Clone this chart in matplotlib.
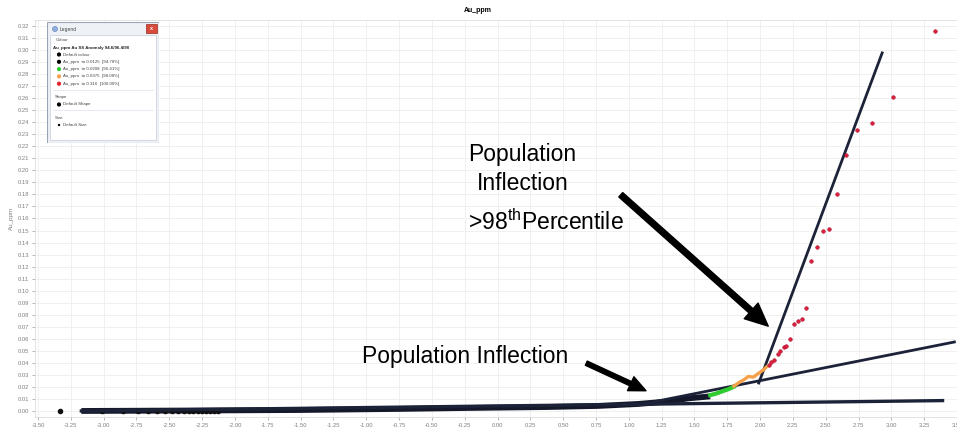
import matplotlib
matplotlib.use("Agg")
import matplotlib.pyplot as plt
from matplotlib.patches import Rectangle, FancyArrowPatch, Circle

plt.rcParams["font.family"] = ["Liberation Sans", "DejaVu Sans"]
plt.rcParams["mathtext.fontset"] = "custom"
plt.rcParams["mathtext.rm"] = "Liberation Sans"

# normal score vs Au_ppm, split by colour class
low_tail_x = [-3.33, -3.01, -2.85, -2.74, -2.66, -2.59, -2.53, -2.48, -2.43,
              -2.39, -2.35, -2.32, -2.28, -2.25, -2.22, -2.19, -2.16, -2.13]
low_tail_y = [0.0005, 0.0005, 0.0005, 0.0005, 0.0005, 0.0005, 0.0005, 0.0005, 0.0005,
              0.0005, 0.0005, 0.0005, 0.0005, 0.0005, 0.0005, 0.0005, 0.0005, 0.0005]

black_x = [-3.17, -2.27, -1.51, -0.75, -0.22, 0.39, 0.77, 1.07, 1.30, 1.45, 1.57, 1.62]
black_y = [0.0004, 0.0008, 0.0012, 0.0021, 0.0029, 0.0037, 0.0046, 0.0062, 0.0083,
           0.0108, 0.0120, 0.0125]

green_x = [1.62, 1.67, 1.72, 1.76, 1.80]
green_y = [0.0135, 0.0150, 0.0170, 0.0185, 0.0205]

orange_x = [1.80, 1.84, 1.88, 1.91, 1.95, 1.98, 2.02, 2.05]
orange_y = [0.0210, 0.0240, 0.0265, 0.0290, 0.0285, 0.0310, 0.0340, 0.0370]

red_x = [2.068, 2.087, 2.108, 2.133, 2.153, 2.181, 2.201, 2.229, 2.258, 2.290, 2.318,
         2.353, 2.391, 2.432, 2.480, 2.528, 2.587, 2.655, 2.739, 2.850, 3.010, 3.331]
red_y = [0.0386, 0.0413, 0.0427, 0.0474, 0.0504, 0.0537, 0.0546, 0.0604, 0.0723, 0.0750,
         0.0765, 0.0856, 0.1250, 0.1367, 0.1499, 0.1511, 0.1806, 0.2127, 0.2334, 0.2395,
         0.2605, 0.3155]

# hand-fitted population lines (start, end)
pop1_x = [-3.17, 3.39]
pop1_y = [0.0004, 0.0090]
pop2_x = [1.07, 3.48]
pop2_y = [0.0054, 0.0576]
pop3_x = [1.99, 2.93]
pop3_y = [0.0236, 0.2973]

x_ticks = [-3.5 + 0.25 * i for i in range(29)]
y_ticks = [0.01 * i for i in range(33)]

legend_rows = [
    ("black", "Default colour"),
    ("black", "Au_ppm  to 0.0125  [94.78%]"),
    ("#2ecc2e", "Au_ppm  to 0.0208  [96.41%]"),
    ("#f5a04a", "Au_ppm  to 0.0375  [98.08%]"),
    ("#e8202e", "Au_ppm  to 0.316  [100.00%]"),
]

W, H = 957, 433
fig = plt.figure(figsize=(W / 100, H / 100), dpi=100)
ax = fig.add_axes([35 / W, 16 / H, 922 / W, 397 / H])

ax.set_xlim(-3.523, 3.483)
ax.set_ylim(-0.0046, 0.3246)
ax.set_xticks(x_ticks)
ax.set_yticks(y_ticks)
ax.set_xticklabels([f"{v:.2f}" for v in x_ticks])
ax.set_yticklabels([f"{v:.2f}" for v in y_ticks])
ax.tick_params(labelsize=4.2, colors="#808080", length=2, width=0.4, pad=2)
ax.grid(True, color="#eeeeee", linewidth=0.6)
ax.set_axisbelow(True)
for s in ax.spines.values():
    s.set_color("#dddddd")
    s.set_linewidth(0.6)
fig.text(478 / W, 1 - 11 / H, "Au_ppm", fontsize=5, fontweight="bold",
         ha="center", va="center")
ax.set_ylabel("Au_ppm", fontsize=4.5, color="#808080", labelpad=3)

navy = "#1c2238"
ax.plot(black_x, black_y, color="#14182a", lw=4.2, solid_capstyle="butt", zorder=3)
ax.plot(pop1_x, pop1_y, color=navy, lw=2.4, zorder=4)
ax.plot(pop2_x, pop2_y, color=navy, lw=2.0, zorder=4)
ax.plot(pop3_x, pop3_y, color=navy, lw=2.0, zorder=4)
ax.plot(low_tail_x, low_tail_y, "o", color="#111111", ms=3, zorder=3)

ax.plot(green_x, green_y, color="#2ecc2e", lw=3, zorder=5)
ax.plot(orange_x, orange_y, color="#f5a04a", lw=2.4, zorder=5)
ax.plot(red_x, red_y, "o", color="#e0203a", mec="#a81030", mew=0.4, ms=2.6, zorder=6)

# annotations
txt_kw = dict(fontsize=16.5, color="black", ha="center", va="center", zorder=7)
ax.text(-0.25, 0.0452, "Population Inflection", **txt_kw)
ax.text(0.19, 0.2127, "Population", **txt_kw)
ax.text(0.19, 0.1894, "Inflection", **txt_kw)
ax.text(0.37, 0.1570, r">98$^{\mathrm{th}}$Percentile", **txt_kw)

big = FancyArrowPatch((0.923, 0.1812), (2.078, 0.0692),
                      arrowstyle="simple,head_length=1.1,head_width=1.0,tail_width=0.28",
                      mutation_scale=15, color="black", zorder=7)
ax.add_patch(big)
small = FancyArrowPatch((0.657, 0.0410), (1.150, 0.0162),
                        arrowstyle="simple,head_length=1.1,head_width=1.0,tail_width=0.3",
                        mutation_scale=11, color="black", zorder=7)
ax.add_patch(small)

# legend window, drawn in its own pixel space
lx0, ly0, lw_, lh_ = 47, 22, 112, 121
lg = fig.add_axes([lx0 / W, (H - ly0 - lh_) / H, lw_ / W, lh_ / H])
lg.set_xlim(0, lw_)
lg.set_ylim(lh_, 0)
lg.axis("off")
lg.add_patch(Rectangle((0, 0), lw_, lh_, facecolor="#eef1f5", edgecolor="#9aa4b4", lw=0.8))
lg.add_patch(Rectangle((3, 13), lw_ - 6, lh_ - 16, facecolor="white", edgecolor="#c4ccd8", lw=0.5))
lg.add_patch(Rectangle((lw_ - 13, 2), 11, 9, facecolor="#d84a3a", edgecolor="#9a2a20", lw=0.5))
lg.text(lw_ - 7.5, 6.5, "x", fontsize=4, color="white", ha="center", va="center", fontweight="bold")
lg.add_patch(Circle((8, 7), 2.5, facecolor="#8fb0e0", edgecolor="#5a7ab0", lw=0.4))
lg.text(13, 7, "Legend", fontsize=3.6, color="#444444", va="center")

small_kw = dict(fontsize=3.2, color="#444444", va="center")
lg.text(9, 18, "Colour", **small_kw)
lg.text(6, 25.5, "Au_ppm Au SS Anomaly 94.6/96.4/98", fontsize=3.2, fontweight="bold",
        color="#222222", va="center")
for i, (c, label) in enumerate(legend_rows):
    y = 32.5 + i * 7.3
    lg.add_patch(Circle((12, y), 2.1, facecolor=c, edgecolor="none"))
    lg.text(16, y, label, **small_kw)
lg.plot([6, lw_ - 6], [68, 68], color="#dde2ea", lw=0.5)
lg.text(8, 75, "Shape", **small_kw)
lg.add_patch(Circle((12, 82.5), 2.1, facecolor="black", edgecolor="none"))
lg.text(16, 82.5, "Default Shape", **small_kw)
lg.plot([6, lw_ - 6], [88, 88], color="#dde2ea", lw=0.5)
lg.text(8, 96, "Size", **small_kw)
lg.add_patch(Circle((12, 103), 1.2, facecolor="black", edgecolor="none"))
lg.text(16, 103, "Default Size", **small_kw)

fig.savefig("out.png", dpi=100)
